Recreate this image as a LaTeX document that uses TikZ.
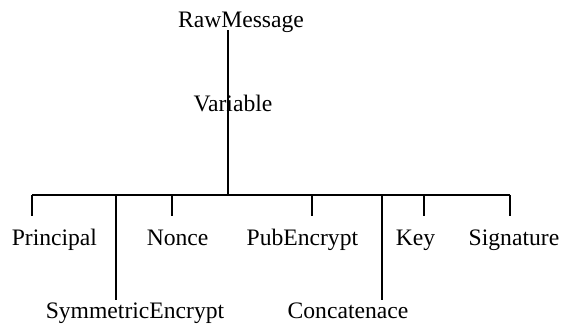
\documentclass[tikz,border=0pt]{standalone}
\usepackage{fontspec}
\setmainfont{Liberation Serif}
\usetikzlibrary{positioning}

\tikzset{
	cls/.style={inner sep=0pt, anchor=base, font=\fontsize{16.8}{20}\selectfont},
	tree/.style={black, line width=1.1pt}
}

\begin{document}
\begin{tikzpicture}[line cap=butt, line join=miter]

		\useasboundingbox (0,0) rectangle (14.1,-8.175);

		% class names
		\node[cls] (raw) at (6.025,-0.69) {RawMessage};
		\node[cls] (var) at (5.825,-2.79) {Variable};
		\node[cls] (principal) at (1.36,-6.15) {Principal};
		\node[cls] (nonce) at (4.44,-6.15) {Nonce};
		\node[cls] (pubenc) at (7.56,-6.15) {PubEncrypt};
		\node[cls] (key) at (10.39,-6.15) {Key};
		\node[cls] (sig) at (12.85,-6.15) {Signature};
		\node[cls] (symenc) at (3.375,-7.96) {SymmetricEncrypt};
		\node[cls] (concat) at (8.7,-7.96) {Concatenace};

		% trunk and bar
		\coordinate (hub) at (5.7,-4.875);
		\coordinate (barL) at (0.8,-4.875);
		\coordinate (barR) at (12.75,-4.875);
		\draw [tree] ([yshift=2pt]raw.south -| hub)--(hub);
		\draw [tree] (barL)--(barR);

		% branch ends
		\coordinate (toPrincipal) at (0.8,-5.4);
		\coordinate (toSymEnc) at (2.9,-7.5);
		\coordinate (toNonce) at (4.3,-5.4);
		\coordinate (toPubEnc) at (7.8,-5.4);
		\coordinate (toConcat) at (9.55,-7.5);
		\coordinate (toKey) at (10.6,-5.4);
		\coordinate (toSig) at (12.75,-5.4);

		\draw [tree] (toPrincipal |- hub)--(toPrincipal);
		\draw [tree] (toSymEnc |- hub)--(toSymEnc);
		\draw [tree] (toNonce |- hub)--(toNonce);
		\draw [tree] (toPubEnc |- hub)--(toPubEnc);
		\draw [tree] (toConcat |- hub)--(toConcat);
		\draw [tree] (toKey |- hub)--(toKey);
		\draw [tree] (toSig |- hub)--(toSig);
\end{tikzpicture}
\end{document}
